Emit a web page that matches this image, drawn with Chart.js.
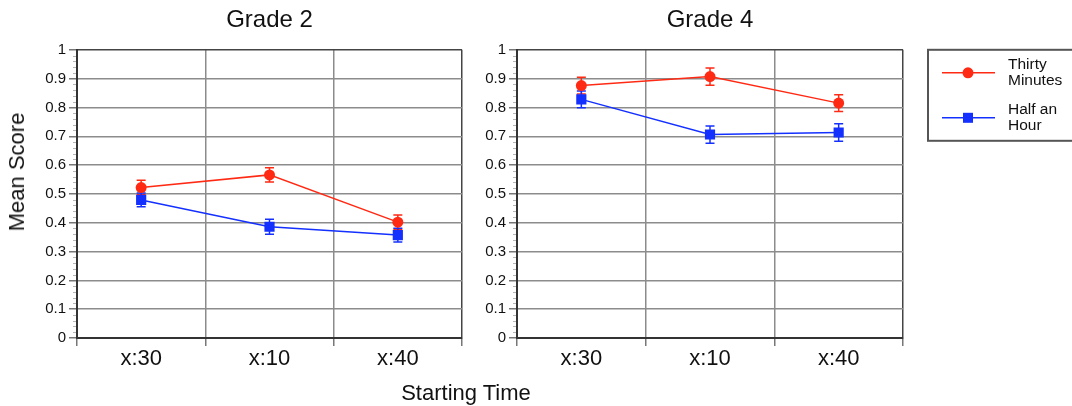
<!DOCTYPE html>
<html>
<head>
<meta charset="utf-8">
<script src="https://cdn.jsdelivr.net/npm/chart.js@4"></script>
<style>
  html, body { margin: 0; padding: 0; background: #fff; }
  #page { position: relative; width: 1072px; height: 406px; overflow: hidden;
          font-family: "Liberation Sans", Arial, sans-serif; color: #111; }
  #g2 { position: absolute; left: 0; top: 0; }
  #g4 { position: absolute; left: 480px; top: 0; }
  .axisTitle { position: absolute; font-size: 22px; white-space: nowrap; line-height: 26px; }
  #xTitle { left: 0; width: 932px; text-align: center; top: 380px; }
  #yTitle { left: 17px; top: 172px; transform: translate(-50%, -50%) rotate(-90deg); }
</style>
</head>
<body>
<div id="page">
  <canvas id="g2" width="480" height="406"></canvas>
  <canvas id="g4" width="592" height="406"></canvas>
  <div class="axisTitle" id="yTitle">Mean Score</div>
  <div class="axisTitle" id="xTitle">Starting Time</div>
</div>
<script>
"use strict";

const startTimes = ["x:30", "x:10", "x:40"];
const seriesLabels = ["Thirty Minutes", "Half an Hour"];
const legendLines = [["Thirty", "Minutes"], ["Half an", "Hour"]];
const yTickLabels = ["0", "0.1", "0.2", "0.3", "0.4", "0.5", "0.6", "0.7", "0.8", "0.9", "1"];

const grade2Thirty = [0.522, 0.566, 0.402];
const grade2ThirtyErr = [0.025, 0.025, 0.025];
const grade2Half = [0.479, 0.386, 0.357];
const grade2HalfErr = [0.024, 0.026, 0.024];

const grade4Thirty = [0.876, 0.907, 0.815];
const grade4ThirtyErr = [0.029, 0.030, 0.029];
const grade4Half = [0.828, 0.706, 0.713];
const grade4HalfErr = [0.029, 0.030, 0.030];

const RED = "#ff2a14";
const BLUE = "#1430ff";
const FONT = "'Liberation Sans', Arial, sans-serif";

// vertical error bars with caps, drawn under the markers
const errorBars = {
  id: "errorBars",
  beforeDatasetsDraw(chart) {
    const { ctx, scales: { y } } = chart;
    chart.data.datasets.forEach((ds, di) => {
      const meta = chart.getDatasetMeta(di);
      ctx.save();
      ctx.strokeStyle = ds.borderColor;
      ctx.lineWidth = 1.5;
      meta.data.forEach((pt, i) => {
        const top = y.getPixelForValue(ds.data[i] + ds.errors[i]);
        const bot = y.getPixelForValue(ds.data[i] - ds.errors[i]);
        ctx.beginPath();
        ctx.moveTo(pt.x, top);
        ctx.lineTo(pt.x, bot);
        ctx.moveTo(pt.x - 4.5, top);
        ctx.lineTo(pt.x + 4.5, top);
        ctx.moveTo(pt.x - 4.5, bot);
        ctx.lineTo(pt.x + 4.5, bot);
        ctx.stroke();
      });
      ctx.restore();
    });
  },
};

// little minor ticks on the left of the y axis
const minorTicks = {
  id: "minorTicks",
  afterDraw(chart) {
    const { ctx, scales: { y } } = chart;
    ctx.save();
    ctx.strokeStyle = "#b5b5b5";
    ctx.lineWidth = 1;
    for (let k = 1; k < 50; k++) {
      if (k % 5 === 0) continue;
      const py = Math.round(y.getPixelForValue(k * 0.02)) + 0.5;
      ctx.beginPath();
      ctx.moveTo(y.right - 4, py);
      ctx.lineTo(y.right - 1, py);
      ctx.stroke();
    }
    ctx.restore();
  },
};

// boxed legend to the right of the plot
const boxLegend = {
  id: "boxLegend",
  afterDraw(chart, args, opts) {
    if (!opts.show) return;
    const { ctx, chartArea } = chart;
    const left = chartArea.right + 25;
    const top = chartArea.top;
    ctx.save();
    ctx.strokeStyle = "#555";
    ctx.lineWidth = 2;
    ctx.strokeRect(left, top, 200, 91);
    chart.data.datasets.forEach((ds, i) => {
      const cy = top + 23 + i * 45;
      ctx.strokeStyle = ds.borderColor;
      ctx.lineWidth = 1.5;
      ctx.beginPath();
      ctx.moveTo(left + 14, cy);
      ctx.lineTo(left + 67, cy);
      ctx.stroke();
      ctx.fillStyle = ds.pointBackgroundColor;
      if (ds.pointStyle === "circle") {
        ctx.beginPath();
        ctx.arc(left + 40, cy, 5.5, 0, Math.PI * 2);
        ctx.fill();
      } else {
        ctx.fillRect(left + 35, cy - 5, 10, 10);
      }
      ctx.fillStyle = "#111";
      ctx.font = "15.5px " + FONT;
      ctx.textBaseline = "alphabetic";
      ctx.fillText(legendLines[i][0], left + 80, cy - 4);
      ctx.fillText(legendLines[i][1], left + 80, cy + 12);
    });
    ctx.restore();
  },
};

function makeConfig(title, thirty, thirtyErr, half, halfErr, yWidth, padRight, showLegend) {
  return {
    type: "line",
    data: {
      labels: startTimes,
      datasets: [
        {
          label: seriesLabels[0],
          data: thirty,
          errors: thirtyErr,
          borderColor: RED,
          borderWidth: 1.5,
          pointStyle: "circle",
          pointRadius: 5.5,
          pointBackgroundColor: RED,
          pointBorderColor: RED,
          pointBorderWidth: 0,
          fill: false,
        },
        {
          label: seriesLabels[1],
          data: half,
          errors: halfErr,
          borderColor: BLUE,
          borderWidth: 1.5,
          pointStyle: "rect",
          pointRadius: 7.2,
          pointBackgroundColor: BLUE,
          pointBorderColor: BLUE,
          pointBorderWidth: 0,
          fill: false,
        },
      ],
    },
    options: {
      responsive: false,
      animation: false,
      layout: { padding: { top: 0, left: 0, bottom: 0, right: padRight } },
      plugins: {
        legend: { display: false },
        tooltip: { enabled: false },
        title: {
          display: true,
          text: title,
          fullSize: false,
          color: "#111",
          font: { family: FONT, size: 24, weight: "normal" },
          padding: { top: 6, bottom: 15 },
        },
        boxLegend: { show: showLegend },
      },
      scales: {
        x: {
          offset: true,
          afterFit: (s) => { s.height = 68; },
          grid: {
            offset: true,
            color: (c) => (c.type === "tick" ? "#8c8c8c" : "#444"),
            lineWidth: 1.5,
            tickLength: 8,
            tickColor: "#777",
          },
          border: { color: "#333", width: 2 },
          ticks: {
            color: "#111",
            padding: 0,
            font: { family: FONT, size: 22 },
          },
        },
        y: {
          min: 0,
          max: 1,
          afterFit: (s) => { s.width = yWidth; },
          grid: {
            color: (c) => (c.tick && c.tick.value === 1 ? "#444" : "#8c8c8c"),
            lineWidth: 1.5,
            tickLength: 8,
            tickColor: "#777",
          },
          border: { color: "#333", width: 2 },
          ticks: {
            stepSize: 0.1,
            color: "#111",
            padding: 3,
            font: { family: FONT, size: 15 },
            callback: (v, i) => yTickLabels[i],
          },
        },
      },
    },
    plugins: [errorBars, minorTicks, boxLegend],
  };
}

new Chart(document.getElementById("g2"),
  makeConfig("Grade 2", grade2Thirty, grade2ThirtyErr, grade2Half, grade2HalfErr, 77, 18, false));
new Chart(document.getElementById("g4"),
  makeConfig("Grade 4", grade4Thirty, grade4ThirtyErr, grade4Half, grade4HalfErr, 37, 169, true));
</script>
</body>
</html>
